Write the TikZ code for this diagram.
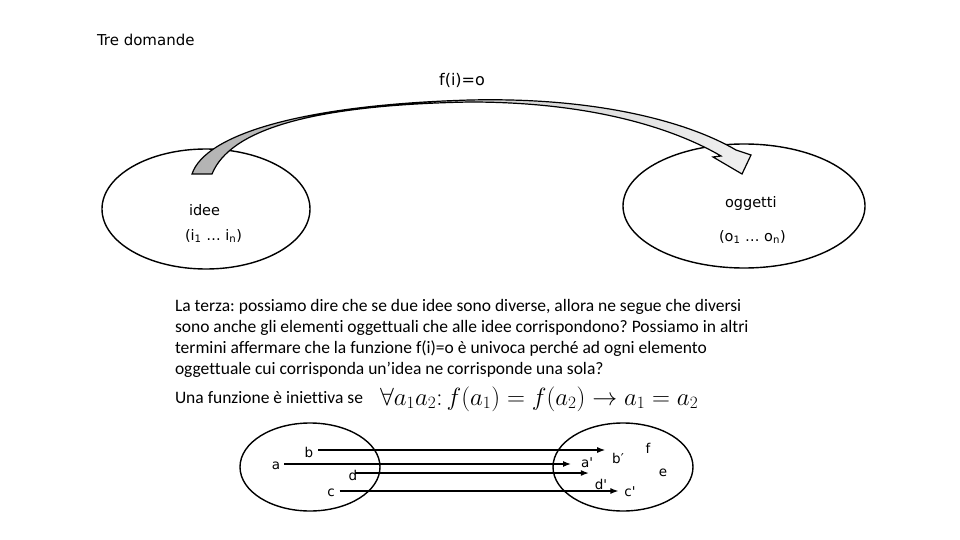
\documentclass[tikz,border=0pt]{standalone}
\usepackage{fontspec}
\setmainfont{Carlito}[Ligatures={NoCommon}]
\newfontfamily\vfont{DejaVu Sans}
\usetikzlibrary{shapes.geometric,arrows.meta}
\frenchspacing
\begin{document}
\begin{tikzpicture}[x=1pt,y=-1pt,
  every node/.style={inner sep=0pt, outer sep=0pt},
  oval/.style={draw, ellipse, line width=1.4pt},
  toplbl/.style={font=\vfont\fontsize{15}{18}\selectfont},
  setlbl/.style={font=\vfont\fontsize{14.5}{17}\selectfont, anchor=west},
  lbl/.style={font=\vfont\fontsize{13.5}{16}\selectfont},
  para/.style={anchor=base west, font=\fontsize{17.5}{21}\selectfont},
  conn/.style={line width=1.3pt, -{Latex[length=8pt,width=6pt]}},
  bigarrow/.style={draw, line width=1.2pt, line join=miter, left color=black!30, right color=black!6}
]
\useasboundingbox (0,0) rectangle (960,540);
\fill[white] (0,0) rectangle (960,540);

% titles
\node[toplbl, anchor=west] (title) at (97,40) {Tre domande};
\node[toplbl, font=\vfont\fontsize{16}{18}\selectfont] (fio) at (462,80) {f(i)=o};

% top sets
\node[oval, minimum width=208pt, minimum height=120pt] (ideeset) at (206,209) {};
\node[oval, minimum width=242pt, minimum height=124pt] (oggset) at (744,206) {};
\node[setlbl] (idee) at (189,210) {idee};
\node[setlbl] (ilist) at (185,236) {(i\textsubscript{1} … i\textsubscript{n})};
\node[setlbl] (ogg) at (725,203) {oggetti};
\node[setlbl] (olist) at (719,237) {(o\textsubscript{1} … o\textsubscript{n})};

% big curved arrow
\path[bigarrow] (192,174) .. controls (205,135) and (300,105) .. (470,100)
  .. controls (600,97) and (690,123) .. (736,150)
  -- (751,155) -- (742,174) -- (713,157) -- (721,156)
  .. controls (680,132) and (600,102) .. (470,102)
  .. controls (310,105) and (230,130) .. (212,174) -- cycle;

% paragraph
\node[para] (l1) at (175,311) {La terza: possiamo dire che se due idee sono diverse, allora ne segue che diversi};
\node[para] (l2) at (175,332) {sono anche gli elementi oggettuali che alle idee corrispondono? Possiamo in altri};
\node[para] (l3) at (175,353) {termini affermare che la funzione f(i)=o è univoca perché ad ogni elemento};
\node[para] (l4) at (175,374) {oggettuale cui corrisponda un’idea ne corrisponde una sola?};
\node[para] (l5) at (175,403) {Una funzione è iniettiva se};
\node[anchor=base west, font=\fontsize{26}{30}\selectfont] (formula) at (380,405)
  {$\forall a_1a_2\colon f(a_1)=f(a_2)\to a_1=a_2$};

% bottom sets
\node[oval, minimum width=140pt, minimum height=88pt] (dom) at (310,467) {};
\node[oval, minimum width=140pt, minimum height=88pt] (cod) at (623,467) {};

\node[lbl] (b) at (309,452) {b};
\node[lbl] (a) at (276,466) {a};
\node[lbl] (d) at (353,475) {d};
\node[lbl] (c) at (331,493) {c};
\node[lbl] (ap) at (587,463) {a'};
\node[lbl] (bp) at (618,458) {b′};
\node[lbl] (f) at (648,448) {f};
\node[lbl] (e) at (663,473) {e};
\node[lbl] (dp) at (601,484) {d'};
\node[lbl] (cp) at (630,492) {c'};

\coordinate (bs) at ([yshift=2pt]b.east);
\coordinate (as) at ([yshift=2pt]a.east);
\coordinate (ds) at ([yshift=2pt]d.east);
\coordinate (cs) at ([yshift=2pt]c.east);
\draw[conn, shorten <=5pt, shorten >=7pt] (bs) -- (bs -| bp.west);
\draw[conn, shorten <=4pt, shorten >=10pt] (as) -- (as -| ap.west);
\draw[conn, shorten <=-2pt, shorten >=6pt] (ds) -- (ds -| dp.west);
\draw[conn, shorten <=5pt, shorten >=6pt] (cs) -- (cs -| cp.west);
\end{tikzpicture}
\end{document}
